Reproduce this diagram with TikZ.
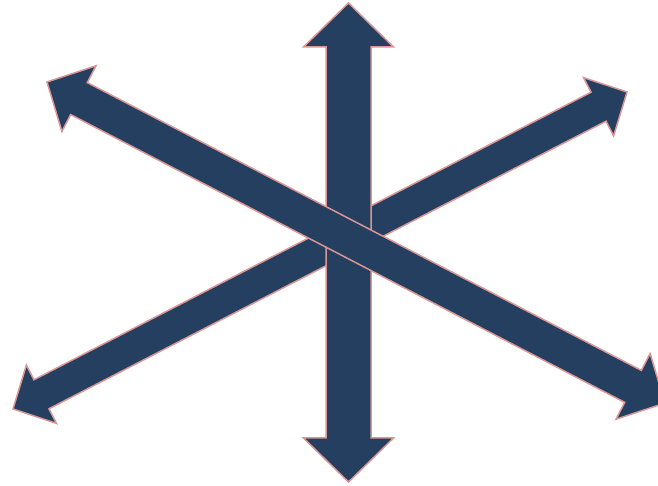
\documentclass[tikz,border=0pt]{standalone}
\definecolor{arrowfill}{RGB}{36,63,96}
\definecolor{arrowline}{RGB}{217,150,148}
\tikzset{arrowbody/.style={fill=arrowfill,draw=arrowline,line width=1.5pt}}
% #1 centre, #2 angle, #3 half length, #4 shaft half width, #5 head half width, #6 head length
\newcommand{\dblarrow}[6]{%
\draw[arrowbody,shift={#1},rotate=#2] (-#3,0) -- (-#3+#6,#5) -- (-#3+#6,#4) -- (#3-#6,#4)
  -- (#3-#6,#5) -- (#3,0) -- (#3-#6,-#5) -- (#3-#6,-#4) -- (-#3+#6,-#4) -- (-#3+#6,-#5) -- cycle;}
\begin{document}
\begin{tikzpicture}[x=1pt,y=1pt]
\useasboundingbox (0,0) rectangle (658,486);
\clip (0,0) rectangle (658,486);

\dblarrow{(320,235.5)}{27.3}{345.5}{16.3}{32.8}{32}
\dblarrow{(348.5,243.5)}{90}{239.5}{22.5}{45}{44}
\dblarrow{(356,243.5)}{-27.45}{348.2}{18}{37}{36}
\end{tikzpicture}
\end{document}
